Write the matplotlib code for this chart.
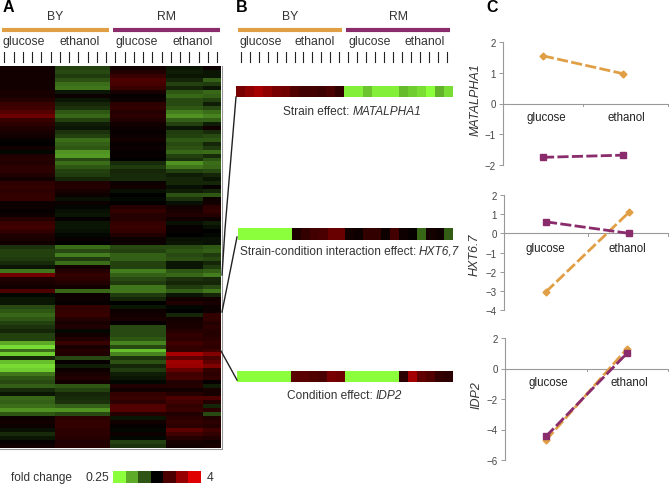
import numpy as np
import matplotlib
matplotlib.use('Agg')
from matplotlib import pyplot as plt
from matplotlib.colors import LinearSegmentedColormap

plt.rcParams['font.family'] = ['Liberation Sans', 'DejaVu Sans']

W, H = 669, 485
orange = '#E09F45'
purple = '#8A2C6C'
grey = '#333333'

# heatmap rows, log2-ish fold change read by eye, one value per band
by_glucose = [.3,.3,.3,.3,.3,.3,.4,.4,.6,.9,1.0,1.3,1.7,.9,.7,.5,.4,.3,.1,0,.3,-.1,.5,.6,
              .5,.7,.7,.5,.3,.7,.8,.7,.8,.8,.2,.2,.1,.2,.6,.9,1.0,.8,.5,.4,.3,-.7,-.9,-.9,
              -.8,-.6,-.3,-1.6,1.8,.5,.4,.3,1.2,-.1,-.3,-.3,-1.0,-1.2,-1.4,-1.2,-.9,-.7,-.5,-.9,-.9,-2.3,-3,-1.5,-2.8,
              -.5,-2.6,-3,-2.8,-1.6,-1.2,-1,-1.3,-.6,-.3,-1.4,-1.3,-1.5,-2.0,-1.2,.2,.3,.2,-.2,-.6,-.3,.1,.3]
by_ethanol = [-.9,-1.0,-.8,-1.1,-1.5,-1.6,-.3,.2,-.3,-.5,-.7,-1.2,-1.4,-.9,-.4,-.3,-.7,-.9,-1.5,-1.3,-1.2,-2.0,-2.1,-1.0,
              -1.5,-1.2,-.9,-.8,-.5,.5,.6,.4,.2,-.2,.2,-.1,-.2,-.3,.1,-.3,-.3,-.2,-.1,.1,0,-1.5,-1.0,-1.7,
              -.8,-1.5,.3,.6,.8,.7,.5,.3,-1.4,.2,.2,.1,.8,.8,.9,.6,.4,.5,-.1,.3,.5,.9,.4,.6,.5,
              -1.0,.1,-.4,.2,.4,.5,.3,-1.2,-.9,-.5,-.6,-.7,-1.3,-2.0,-1.0,.7,.8,.8,.7,.7,.6,.5,.6]
rm_glucose = [.3,.5,.9,1.2,1.1,.9,.4,.1,.2,.7,.8,.6,.7,.5,.3,.2,.1,.2,.3,.1,.2,.1,.1,0,
              -.6,-.8,-.5,-.6,-.6,.2,.3,-.2,0,-.1,0,.6,.8,.6,.6,.8,.9,.8,.5,.2,.2,-1.0,-.9,-1.3,
              -1.3,-.9,-.9,-1.7,-1.3,-1.0,-.8,-1.6,-1.6,-.8,-.5,0,-.3,.2,.3,.4,.1,-1.0,-1.0,-1.0,-1.2,-1.8,-1.0,-2.6,-1.8,
              -.7,-1.1,-.5,-.8,-.4,-.3,-.1,.5,.3,.8,.9,.7,1.3,1.3,.6,-.3,.3,.1,-.1,.2,-.1,-.9,-.7]
rm_ethanol_a = [-.3,-.4,-.3,-.5,-.9,-.5,-1.2,-1.4,-1.0,-1.0,-1.2,-1.7,-2.0,-1.3,-.9,-.3,-.8,-.9,-1.2,-1.0,-1.1,-1.4,-.9,-.7,
                -2.0,-1.6,-.9,-.4,-.5,-.5,-.2,-.4,-1.1,-.7,-.2,.3,.4,.5,.3,-.2,.1,.1,0,-.2,-.3,-1.0,-1.2,-1.0,
                -1.1,-.3,-.3,-1.2,-1.4,-.7,-.5,-.8,-1.3,-.3,.3,.5,-.1,0,-.5,.3,.4,.4,.6,.8,.7,1.0,.8,.8,2.6,
                1.5,2.5,2.4,1.6,1.0,1.1,.5,.6,.3,.6,1.2,1.0,.8,.9,.5,.7,.8,.7,1.4,1.0,.6,.4,.3]
rm_ethanol_b = [.2,-.3,-.3,-1.3,-.8,-.3,-1.4,-1.3,-.9,-.4,-1.0,-1.5,-1.8,-1.3,-.4,.3,-.6,-1.0,-1.2,-.5,-.8,-1.5,-.6,-1.2,
                -1.5,-1.4,-1,-.5,-.3,-.5,.1,-.5,-1.2,.2,.3,.7,.8,.6,.2,-.4,-.2,0,-.1,-.2,-.2,-1.2,-1.3,-.8,
                -1.0,-.5,-.8,-1.3,-1.7,-.6,-.5,-1.0,-1.6,-.5,.3,.4,.2,.2,.8,.8,.6,.7,.6,.6,.7,.8,.7,1.0,2.0,
                1.2,1.5,2.0,.8,.7,.8,.1,-.4,.4,.4,1.2,.6,-.5,.7,-1,.5,.7,.6,1.0,.8,.5,.3,.4]

# single gene rows in panel B, 24 samples each
matalpha1 = [1.6,1.9,2.2,1.9,1.6,1.5,1.1,.9,.9,.8,1.0,.7,-2.8,-2.8,-2.3,-2.8,-2.8,-2.8,-2.2,-2.4,-2.6,-3,-2.1,-2.6]
hxt67 = [-3,-3,-3,-3,-3,-3,.4,.7,.9,1.0,1.4,1.4,.3,.2,.7,.7,.2,.9,.2,.1,-1.2,.3,.2,-1.1]
idp2 = [-3,-3,-3,-3,-3,-3,1.2,1.2,1.1,1.0,1.6,1.5,-3,-3,-3,-3,-3,-3,.6,2.2,1.3,1.1,.7,.6]
legend_levels = [-3,-2,-1,0,1,2,3]

# panel C
conditions = ['glucose', 'ethanol']
matalpha_by = [1.55, .97]
matalpha_rm = [-1.75, -1.68]
hxt_by = [-3.05, 1.1]
hxt_rm = [.6, 0]
idp_by = [-4.7, 1.3]
idp_rm = [-4.45, 1.0]

cmap = LinearSegmentedColormap.from_list('fc', ['#8CFF3C', '#000000', '#E00000'])


def px_axes(x0, y0, x1, y1):
    return fig.add_axes([x0 / W, 1 - y1 / H, (x1 - x0) / W, (y1 - y0) / H])


def strip(x0, y0, x1, y1, vals, lim=3):
    ax = px_axes(x0, y0, x1, y1)
    ax.imshow(np.atleast_2d(vals), cmap=cmap, vmin=-lim, vmax=lim, aspect='auto', interpolation='nearest')
    ax.axis('off')


fig = plt.figure(figsize=(W / 100, H / 100), dpi=100)

# overlay in pixel coordinates for the labels and connectors
ov = fig.add_axes([0, 0, 1, 1], zorder=5)
ov.set_xlim(0, W)
ov.set_ylim(H, 0)
ov.axis('off')

heat = np.column_stack([np.repeat(np.array(by_glucose)[:, None], 6, axis=1),
                        np.repeat(np.array(by_ethanol)[:, None], 6, axis=1),
                        np.repeat(np.array(rm_glucose)[:, None], 6, axis=1),
                        np.repeat(np.array(rm_ethanol_a)[:, None], 4, axis=1),
                        np.repeat(np.array(rm_ethanol_b)[:, None], 2, axis=1)])
strip(0, 67, 221, 449, heat, lim=3.5)
strip(236, 87, 453, 98, matalpha1)
strip(238, 229, 453, 241, hxt67)
strip(237, 372, 453, 383, idp2)
strip(113, 472, 201, 484, legend_levels)

ov.plot([0, 221.5, 221.5], [449.5, 449.5, 67], color='#999999', lw=.8)

fs = 8.8
for label, x in [('A', 3), ('B', 236), ('C', 486)]:
    ov.text(x, 12.5, label, fontsize=11.5, fontweight='bold', ha='left', va='baseline', color='black')

for a, b, c, d in [(1.5, 109, 113, 220), (238, 342, 346, 450)]:
    ov.plot([a, b], [31, 31], color=orange, lw=3, solid_capstyle='butt')
    ov.plot([c, d], [31, 31], color=purple, lw=3, solid_capstyle='butt')
    ov.text((a + b) / 2, 16.5, 'BY', fontsize=fs, ha='center', va='center', color=grey)
    ov.text((c + d) / 2, 16.5, 'RM', fontsize=fs, ha='center', va='center', color=grey)

for x, txt in [(24, 'glucose'), (80, 'ethanol'), (137, 'glucose'), (193, 'ethanol'),
               (261, 'glucose'), (315, 'ethanol'), (370, 'glucose'), (425, 'ethanol')]:
    ov.text(x, 42, txt, fontsize=fs, ha='center', va='center', color=grey)

for start, stop in [(4.3, 217), (240.7, 447)]:
    for x in np.linspace(start, stop, 24):
        ov.plot([x, x], [53, 63], color='#222222', lw=.8)

for x, y, plain, gene in [(349.5, 112, 'Strain effect:', 'MATALPHA1'),
                          (416, 252, 'Strain-condition interaction effect:', 'HXT6,7'),
                          (373, 396, 'Condition effect:', 'IDP2')]:
    ov.text(x, y, plain, fontsize=8.6, ha='right', va='center', color=grey)
    ov.text(x + 3, y, gene, fontsize=8.6, style='italic', ha='left', va='center', color=grey)

ov.plot([222, 225, 236], [276, 230, 98], color='#222222', lw=1)
ov.plot([222, 237], [313, 238], color='#222222', lw=1)
ov.plot([221, 237], [352, 381], color='#222222', lw=1)

ov.text(11, 478, 'fold change', fontsize=8.5, ha='left', va='center', color=grey)
ov.text(86, 478, '0.25', fontsize=fs, ha='left', va='center', color=grey)
ov.text(207, 478, '4', fontsize=fs, ha='left', va='center', color=grey)


def line_panel(x0, x1, xa, xb, ytop, ybot, ymin, ymax, step, by, rm, name, label_x, label_y, cat_y, cat_x):
    ax = px_axes(x0, ytop, x1, ybot)
    # category positions come from where the two points sit on the page
    span = xb - xa
    ax.set_xlim((x0 - xa) / span, (x1 - xa) / span)
    ax.set_ylim(ymin, ymax)
    ax.patch.set_alpha(0)
    ax.plot([0, 1], by, color=orange, lw=2, ls=(0, (4, 1.2)), marker='D', ms=3.5, zorder=3, clip_on=False)
    ax.plot([0, 1], rm, color=purple, lw=2, ls=(0, (4, 1.2)), marker='s', ms=4.5, zorder=4, clip_on=False)
    for s in ['top', 'right', 'bottom']:
        ax.spines[s].set_visible(False)
    ax.spines['left'].set_color('#999999')
    ax.spines['left'].set_linewidth(.8)
    ax.axhline(0, color='#999999', lw=.8, zorder=1)
    ax.set_yticks(np.arange(ymin, ymax + 1, step))
    ax.tick_params(axis='y', labelsize=7, labelcolor='#444444', length=3, width=.7, color='#999999', pad=2)
    ax.set_xticks([])
    for x in [.5, ax.get_xlim()[1]]:
        ax.plot([x, x], [0, -(ymax - ymin) * .02], color='#999999', lw=.7, clip_on=False)
    for c, xpix in zip(conditions, cat_x):
        ov.text(xpix, cat_y, c, fontsize=8.3, ha='center', va='center', color='#222222')
    ov.text(label_x, label_y, name, fontsize=9, style='italic', rotation=90, ha='center', va='center', color=grey)


line_panel(503, 668, 543, 623, 43, 166, -2, 2, 1, matalpha_by, matalpha_rm, 'MATALPHA1', 476, 100, 118, (546, 626))
line_panel(504, 668, 546, 629, 196, 311, -4, 2, 1, hxt_by, hxt_rm, 'HXT6.7', 475, 255, 249, (545, 627))
line_panel(505, 668, 546, 627, 339, 461, -6, 2, 2, idp_by, idp_rm, 'IDP2', 477, 395, 383, (548, 629))

fig.savefig('out.png', dpi=100)
